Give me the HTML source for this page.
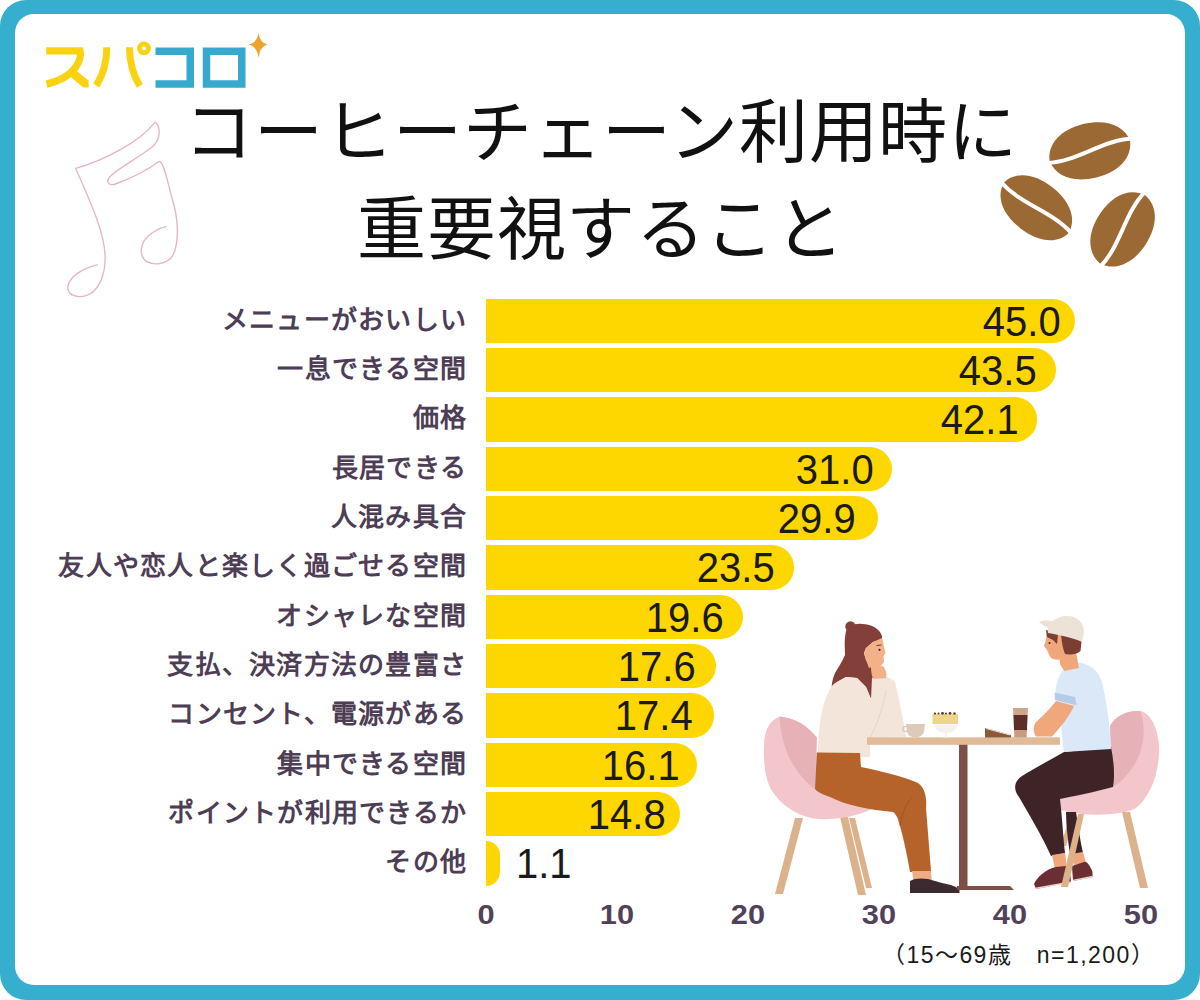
<!DOCTYPE html>
<html lang="zh-CN">
<head>
<meta charset="utf-8">
<title>コーヒーチェーン利用時に重要視すること</title>
<style>
html,body{margin:0;padding:0;}
body{width:1200px;height:1000px;position:relative;overflow:hidden;background:#fff;font-family:"Liberation Sans",sans-serif;}
.frame{position:absolute;left:0;top:0;width:1200px;height:1000px;background:#35afcd;border-radius:26px;}
.inner{position:absolute;left:15px;top:14px;width:1170px;height:971px;background:#fff;border-radius:19px;}
.abs{position:absolute;}
.title{position:absolute;left:0;width:1200px;text-align:center;font-size:69px;line-height:1;color:#111;white-space:nowrap;}
.lbl{position:absolute;right:732.8px;font-size:26px;letter-spacing:1.25px;font-weight:bold;line-height:30px;height:30px;color:#4d3d55;white-space:nowrap;text-align:right;}
.bar{position:absolute;left:486px;height:44.3px;background:#fed700;border-radius:0 22px 22px 0;}
.num{position:absolute;font-size:43px;line-height:44px;color:#1a1a1a;white-space:nowrap;transform:scaleX(0.93);transform-origin:right center;}
.ax{position:absolute;top:899.5px;font-size:28px;font-weight:bold;line-height:30px;color:#524259;width:60px;text-align:center;transform:scaleX(1.1);}
.note{position:absolute;left:882px;letter-spacing:1.45px;top:940px;font-size:23px;line-height:30px;color:#1a1a1a;white-space:nowrap;}
</style>
</head>
<body>
<div class="frame"></div>
<div class="inner"></div>

<!-- logo -->
<svg class="abs" style="left:0;top:0" width="300" height="110" viewBox="0 0 300 110">
<g fill="none" stroke="#f9d312" stroke-width="7.3">
<path d="M46.2,50.9 L80,50.9 C81.5,56 79.5,62 75,68 C70,74.5 60,81 46.5,84.1" stroke-linejoin="miter"/>

<path d="M106.8,47.3 C106.8,62 103,75 96.3,85.5" stroke-width="7"/>
<path d="M129.5,47.3 C129.5,62 133,75 139.8,85.8" stroke-width="7"/>
<circle cx="144" cy="48.3" r="4.5" stroke-width="4.8"/>
</g>
<path fill="#f9d312" d="M67.5,74.2 L73.2,68.2 L88.6,80.6 L88.6,87.4 L83.2,87.4 Z"/>
<g fill="none" stroke="#37a9cd" stroke-width="7.5" stroke-linejoin="miter">
<path d="M155.5,51.25 H190.25 V84 H155.5"/>
<rect x="206.5" y="51.25" width="35.25" height="32.75"/>
</g>
<path d="M258.5,33 Q260,43 267.5,44.5 Q260,46 258.5,58 Q257,46 248.5,44.5 Q257,43 258.5,33 Z" fill="#eda32c"/>
</svg>

<!-- music note -->
<svg class="abs" style="left:50px;top:100px" width="150" height="210" viewBox="0 0 714 1000">
<path fill="none" stroke="#e6b6c2" stroke-width="6.5" stroke-linecap="round" stroke-linejoin="round" d="M225,785 C160,800 90,840 85,890 C82,930 130,945 175,930 C230,910 265,840 262,740 C258,620 180,460 122,326 C250,290 430,200 500,105 C530,130 525,190 490,220 C430,270 330,320 285,365 C262,392 282,410 312,400 C380,375 470,330 520,292 C545,295 560,400 590,500 C615,600 610,690 585,740 C560,780 500,790 460,770 C420,740 430,680 470,645 C500,620 530,608 552,603"/>
</svg>
<!-- coffee beans -->
<svg class="abs" style="left:990px;top:110px" width="180" height="170" viewBox="0 0 180 170">
<g transform="translate(99.8,40.8) rotate(-14)"><path d="M-41.5,0 C-39.4,-17.1 -22.8,-27.5 0,-27.5 C22.8,-27.5 39.4,-17.1 41.5,0 C39.4,17.1 22.8,27.5 0,27.5 C-22.8,27.5 -39.4,17.1 -41.5,0Z" fill="#9a6934"/><path d="M-44.5,1.5 C-14.5,7.7 14.5,-7.7 44.5,-1.5" fill="none" stroke="#fff" stroke-width="4"/></g>
<g transform="translate(46.3,97.7) rotate(38)"><path d="M-41,0 C-38.9,-16.1 -22.6,-26 0,-26 C22.6,-26 38.9,-16.1 41,0 C38.9,16.1 22.6,26 0,26 C-22.6,26 -38.9,16.1 -41,0Z" fill="#9a6934"/><path d="M-44,1.5 C-14.3,7.3 14.3,-7.3 44,-1.5" fill="none" stroke="#fff" stroke-width="4"/></g>
<g transform="translate(132.6,119.4) rotate(-57)"><path d="M-41,0 C-38.9,-17.1 -22.6,-27.5 0,-27.5 C22.6,-27.5 38.9,-17.1 41,0 C38.9,17.1 22.6,27.5 0,27.5 C-22.6,27.5 -38.9,17.1 -41,0Z" fill="#9a6934"/><path d="M-44,1.5 C-14.3,7.7 14.3,-7.7 44,-1.5" fill="none" stroke="#fff" stroke-width="4"/></g>
</svg>
<!-- illustration -->
<svg class="abs" style="left:0;top:0" width="1200" height="1000" viewBox="0 0 1200 1000">
<!-- left chair legs -->
<g fill="#dcb28c">
<path d="M795,818 L803,818 L783,894 L775,894 Z"/>
<path d="M840,817 L848,817 L866,895 L858,895 Z"/>
<path d="M849,818 L855,818 L872,888 L866,888 Z"/>
</g>
<!-- left chair shell -->
<path fill="#f3c6cb" d="M779.6,716.4 C770,720 764,730 764,745 C763,765 766,785 775,795 C785,808 800,817 818,819 C835,820 855,817 872,809 L872,800 C850,790 830,785 816,789 L816.8,737.4 C808,726 795,718 779.6,716.4 Z"/>
<path fill="#e6b1b7" d="M779.6,716.4 C795,718 808,726 816.8,737.4 L815,789 C805,782 795,770 788,755 C782,740 780,728 779.6,716.4 Z"/>
<!-- woman hair back -->
<path fill="#83403a" d="M846,631 C848,626 855,623 862,624 C872,624 880,629 882,636 L882,640 L873,642 L866,648 L864,653 L866,660 L872,668 L874,678 L874,692 L871,699 L866,687 L857,678 L846,677 L837,682 L832,692 C831,686 832,680 835,673 C838,668 842,662 845,655 C845,647 844,640 846,631 Z"/>
<circle cx="850.5" cy="626.5" r="5.2" fill="#83403a"/>
<!-- sweater -->
<path fill="#f3e5da" d="M846,677 L857,678 L866,687 L871,699 L872,678 C880,675 890,676 895,682 C899,698 903,718 906,737 L870,738 L870,757 L818,757 C818,735 820,712 826,698 C829,690 832,684 837,682 Z"/>
<path fill="none" stroke="#e9d5c7" stroke-width="1" d="M870,738 C878,722 884,705 886,690"/>
<!-- woman face + hand -->
<path fill="#f3b189" d="M866,648 L873,642 L882,638 C884,644 884,648 885.6,653 L883.5,656 L884,662 C882,666 878,667 872,667 L869,668 L866,660 L864,653 Z"/>
<path fill="#f3b189" d="M871,667 C874,664 880,664 884,667 C887,672 887,678 885,681 L874,681 C872,677 871,672 871,667 Z"/>
<circle cx="879.5" cy="649.8" r="1.1" fill="#3a2522"/>
<path fill="none" stroke="#6e3a32" stroke-width="1" d="M876.5,645.5 L881.5,645"/>
<!-- sleeve top near hand -->
<path fill="#f3e5da" d="M872,679 L888,678 C892,679 895,684 895,690 L876,692 Z"/>
<!-- pants -->
<path fill="#b5632a" d="M816.8,752.5 L860,753 L861,767 C880,771 905,777 918,783 C925,788 927,798 926,808 L931,871 L910,872 C907,855 904,840 900,826 C898,818 896,814 893,812 C870,810 845,805 830,797 C822,794 817,792 815,789 Z"/>
<path fill="none" stroke="#9f5424" stroke-width="1" d="M900,826 C902,815 905,805 912,797"/>
<!-- woman ankles + shoe -->
<path fill="#f0ad83" d="M912,871 L931,871 L932,884 L914,884 Z"/>
<path fill="#3b2a2f" d="M910,881 C914,878 922,878 928,879 L942,883 C952,885 958,887 959.5,890 L959.5,893 L910,893 Z"/>
<!-- table -->
<rect x="959" y="744" width="8.5" height="145" fill="#7e4f48"/>
<path fill="#7e4f48" d="M957,886 L1010,886 L1014,890 L957,890 Z"/>
<rect x="867" y="737.3" width="193" height="7.5" fill="#e1ba98"/>
<!-- cup -->
<path fill="#dccabb" d="M906,724 L925,724 L924,732 C923,735 920,737 916,737 L914,737 C910,737 908,735 907,732 Z"/>
<circle cx="905.5" cy="729" r="2.6" fill="none" stroke="#dccabb" stroke-width="1.4"/>
<!-- cake on stand -->
<path fill="#f6f1ee" d="M934,725 L958,725 C956,731 950,733 947,733 L947,737 L951,737.5 L941,737.5 L945,737 L945,733 C941,733 936,731 934,725 Z"/>
<rect x="932.5" y="714" width="25.5" height="10" fill="#eed58c"/>
<g fill="#5a3a22"><circle cx="935" cy="713.6" r="1.1"/><circle cx="938.5" cy="713.4" r="1"/><circle cx="942.5" cy="713.3" r="1.4"/><circle cx="946" cy="713.6" r="1"/><circle cx="950" cy="713.3" r="1.4"/><circle cx="954.5" cy="713.5" r="1.2"/></g>
<!-- cake slice -->
<path fill="#8c5a3b" d="M985,728 L997,731 L1011,735 L1011,737.5 L985,737.5 Z"/>
<path fill="none" stroke="#efe2d0" stroke-width="1" d="M986,728.5 L1010,735"/>
<!-- coffee cup -->
<path fill="#cfa58b" d="M1013,708 L1028,708 L1027.6,715 L1013.4,715 Z"/>
<path fill="#5c2e27" d="M1013.4,715 L1027.6,715 L1027,730 L1014,730 Z"/>
<path fill="#c89b82" d="M1014,730 L1027,730 L1026.5,737.5 L1014.5,737.5 Z"/>
<!-- right chair shell -->
<path fill="#f3c6cb" d="M1140,711 C1150,713 1157,725 1159,745 C1160,770 1152,795 1136,808 C1120,816 1090,816 1068,812 C1058,810 1052,805 1052,800 C1070,796 1095,792 1112,787 C1112,760 1110,740 1110,726 C1115,716 1128,710 1140,711 Z"/>
<path fill="#e6b1b7" d="M1110,726 C1115,716 1128,710 1140,711 C1146,725 1144,745 1138,758 C1132,770 1122,782 1113,787 C1112,765 1111,745 1110,726 Z"/>
<!-- right chair legs (behind pants) -->
<g fill="#dcb28c">
<path d="M1122,812 L1130,812 L1148,888 L1140,888 Z"/>
<path d="M1070,814 L1076,814 L1066,846 L1061,846 Z"/>
</g>
<!-- man far lower leg -->
<path fill="#3f2427" d="M1066,812 L1076,812 C1078,825 1080,840 1083,853 L1070,855 C1068,840 1066,826 1066,812 Z"/>
<!-- man pants -->
<path fill="#3f2427" d="M1064,752 L1111,747 C1114,762 1115,776 1113,787 C1095,792 1075,796 1060,799 C1062,815 1063,835 1065,853 L1051,856 C1042,836 1030,816 1019,797 C1013,790 1014,781 1022,776 C1035,768 1050,760 1064,752 Z"/>
<!-- man ankles -->
<path fill="#f0a77b" d="M1052,855 L1065,853 L1067,868 L1055,869 Z"/>
<path fill="#f0a77b" d="M1071,854 L1083,852 L1086,863 L1074,865 Z"/>
<!-- man shoes -->
<path fill="#6a2e33" d="M1034,884 C1037,877 1046,869 1056,867 L1066,866 C1069,870 1071,876 1071,882 L1036,889 Z"/>
<path fill="#6a2e33" d="M1072,866 L1084,862 C1087,861 1090,866 1092.5,872 L1092.5,877 L1073,881 Z"/>
<path fill="none" stroke="#ecd3cc" stroke-width="1.3" d="M1035,888.5 L1071,882 M1073,880.5 L1092.5,876.5"/>
<!-- chair back-left leg in front -->
<path fill="#dcb28c" d="M1078,814 L1084,814 L1068,887 L1061,887 Z"/>
<!-- man shirt -->
<path fill="#dae8f7" d="M1064.7,668.7 C1070,664 1076,662 1082,663 C1090,665 1098,670 1102,682 C1106,700 1110,722 1111,749 L1064,752 C1062,740 1061,725 1061,712 C1058,705 1056,698 1055.5,692 C1056,684 1058,676 1064.7,668.7 Z"/>
<path fill="#b6cbe7" d="M1054.6,692.5 L1075,697 L1076.6,705.3 L1055,700 Z"/>
<!-- man arm -->
<path fill="#f0a77b" d="M1056,701 L1074,706 C1070,715 1062,726 1052,736.5 L1036,736.5 C1033,732 1033,726 1036,722 C1043,716 1050,709 1056,701 Z"/>
<!-- man neck + head -->
<path fill="#f0a77b" d="M1059,652 L1076,652 L1079,668 L1064,671 L1060,664 Z"/>
<path fill="#f0a77b" d="M1047,632 C1052,629 1060,630 1066,636 L1068,655 C1064,660 1056,661 1051,658 C1049,655 1048,652 1047,650 L1044,646 C1045,643 1046,640 1047,632 Z"/>
<path fill="#7a3e33" d="M1061,634 L1082,637 L1080.5,651 C1077,654.5 1070,655 1065,654 C1063,649 1062,644 1061,634 Z"/>
<path fill="#7a3e33" d="M1046,630 L1058,634 L1057,644 L1053,640 L1047,637 Z"/>

<circle cx="1049.5" cy="643" r="1" fill="#3a2522"/>
<!-- cap -->
<path fill="#ede2d6" d="M1048,633 C1047,623 1056,616 1067,616 C1078,616 1084,623 1084,632 L1082,642 C1074,638 1060,635 1048,633 Z"/>
<path fill="#ede2d6" d="M1039,622 C1044,619 1052,620 1058,624 L1053,631 C1048,628 1042,625 1039,622 Z"/>
</svg>
<!-- title -->
<div class="title" style="top:99px;letter-spacing:0.7px;left:1px">コーヒーチェーン利用時に</div>
<div class="title" style="top:196px;left:1px;letter-spacing:0.6px">重要視すること</div>

<!-- labels -->
<div class="lbl" style="top:304.8px">メニューがおいしい</div>
<div class="lbl" style="top:353.8px">一息できる空間</div>
<div class="lbl" style="top:402.8px">価格</div>
<div class="lbl" style="top:452.8px">長居できる</div>
<div class="lbl" style="top:501.8px">人混み具合</div>
<div class="lbl" style="top:550.8px">友人や恋人と楽しく過ごせる空間</div>
<div class="lbl" style="top:600.8px">オシャレな空間</div>
<div class="lbl" style="top:649.8px">支払、決済方法の豊富さ</div>
<div class="lbl" style="top:698.8px">コンセント、電源がある</div>
<div class="lbl" style="top:748.8px">集中できる空間</div>
<div class="lbl" style="top:797.8px">ポイントが利用できるか</div>
<div class="lbl" style="top:846.8px">その他</div>

<!-- bars -->
<div class="bar" style="top:298.7px;width:589.1px"></div>
<div class="bar" style="top:348.0px;width:569.5px"></div>
<div class="bar" style="top:397.4px;width:551.2px"></div>
<div class="bar" style="top:446.7px;width:405.9px"></div>
<div class="bar" style="top:496.0px;width:391.5px"></div>
<div class="bar" style="top:545.3px;width:307.7px"></div>
<div class="bar" style="top:594.7px;width:256.6px"></div>
<div class="bar" style="top:644.0px;width:230.4px"></div>
<div class="bar" style="top:693.3px;width:227.8px"></div>
<div class="bar" style="top:742.7px;width:210.8px"></div>
<div class="bar" style="top:792.0px;width:193.8px"></div>
<div class="bar" style="top:841.3px;width:14.4px"></div>
<!-- values -->
<div class="num" style="top:298.7px;right:139.7px">45.0</div>
<div class="num" style="top:348.0px;right:163.8px">43.5</div>
<div class="num" style="top:397.4px;right:181.3px">42.1</div>
<div class="num" style="top:446.7px;right:326.8px">31.0</div>
<div class="num" style="top:496.0px;right:344.1px">29.9</div>
<div class="num" style="top:545.3px;right:425.4px">23.5</div>
<div class="num" style="top:594.7px;right:475.9px">19.6</div>
<div class="num" style="top:644.0px;right:504.7px">17.6</div>
<div class="num" style="top:693.3px;right:507.0px">17.4</div>
<div class="num" style="top:742.7px;right:519.9px">16.1</div>
<div class="num" style="top:792.0px;right:533.9px">14.8</div>
<div class="num" style="top:841.3px;left:515.7px;transform-origin:left center">1.1</div>
<!-- axis -->
<div class="ax" style="left:456.0px">0</div>
<div class="ax" style="left:586.9px">10</div>
<div class="ax" style="left:717.8px">20</div>
<div class="ax" style="left:848.8px">30</div>
<div class="ax" style="left:979.7px">40</div>
<div class="ax" style="left:1110.6px">50</div>
<div class="note">（15〜69歳　n=1,200）</div>
</body>
</html>
